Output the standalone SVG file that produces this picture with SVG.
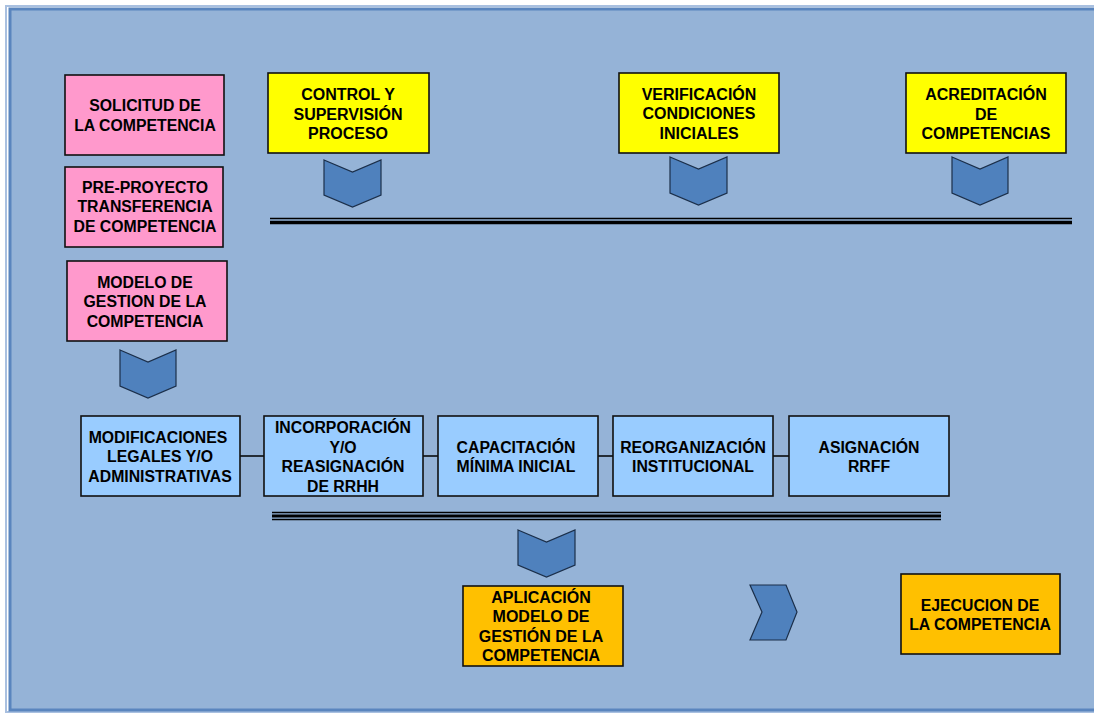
<svg xmlns="http://www.w3.org/2000/svg" width="1094" height="713" viewBox="0 0 1094 713">
<defs>
<style>
.bg{fill:#95B3D7;stroke:#5A85BE;stroke-width:3}
.box{stroke:#111;stroke-width:1.6}
.pink{fill:#FF99CC}
.yellow{fill:#FFFF00}
.blue{fill:#99CCFF}
.orange{fill:#FFC000}
.chev{fill:#4F81BD;stroke:#1B2F4A;stroke-width:1.2;stroke-linejoin:miter}
text{font-family:"Liberation Sans",Arial,sans-serif;font-weight:bold;fill:#000;text-anchor:middle}
.t{font-size:15.8px}
.n{font-size:16px}
.ln{stroke:#000}
</style>
</defs>
<rect x="0" y="0" width="1094" height="713" fill="#ffffff"/>
<rect x="6" y="6" width="1100" height="706" fill="none" stroke="#A9C0E0" stroke-width="2"/>
<rect class="bg" x="10" y="9" width="1096" height="701"/>

<g id="connectors">
  <line class="ln" x1="270" y1="218.5" x2="1072" y2="218.5" stroke-width="1.5"/>
  <line class="ln" x1="270" y1="222.5" x2="1072" y2="222.5" stroke-width="3.5"/>
  <line class="ln" x1="272" y1="512.5" x2="941" y2="512.5" stroke-width="1.5"/>
  <line class="ln" x1="272" y1="516" x2="941" y2="516" stroke-width="3"/>
  <line class="ln" x1="272" y1="519.5" x2="941" y2="519.5" stroke-width="1.5"/>
  <line class="ln" x1="240" y1="456" x2="264" y2="456" stroke-width="1.5"/>
  <line class="ln" x1="423" y1="456" x2="438" y2="456" stroke-width="1.5"/>
  <line class="ln" x1="598" y1="456" x2="613" y2="456" stroke-width="1.5"/>
  <line class="ln" x1="773" y1="456" x2="789" y2="456" stroke-width="1.5"/>
  <polygon class="chev" points="324,160 352.5,172 381,160 381,195 352.5,207 324,195"/>
  <polygon class="chev" points="670,157 698.5,169 727,157 727,193 698.5,205 670,193"/>
  <polygon class="chev" points="952,157 980,169 1008,157 1008,193 980,205 952,193"/>
  <polygon class="chev" points="120,350 148,362 176,350 176,386 148,398 120,386"/>
  <polygon class="chev" points="518,530 546.5,542 575,530 575,565 546.5,577 518,565"/>
  <polygon class="chev" points="750,585 786,585 797,612 786,640 750,640 762,612"/>
</g>

<g id="solicitud">
  <rect class="box pink" x="65" y="75" width="159" height="80"/>
  <text class="t" x="145" y="110.5">SOLICITUD  DE</text>
  <text class="t" x="145" y="130.5">LA COMPETENCIA</text>
</g>
<g id="preproyecto">
  <rect class="box pink" x="65" y="167" width="158" height="80"/>
  <text class="t" x="145" y="192.5">PRE-PROYECTO</text>
  <text class="t" x="145" y="212">TRANSFERENCIA</text>
  <text class="t" x="145" y="231.5">DE COMPETENCIA</text>
</g>
<g id="modelo">
  <rect class="box pink" x="67" y="261" width="160" height="80"/>
  <text class="t" x="145" y="287.5">MODELO DE</text>
  <text class="t" x="145" y="307">GESTION DE LA</text>
  <text class="t" x="145" y="326.5">COMPETENCIA</text>
</g>
<g id="control">
  <rect class="box yellow" x="268" y="73" width="161" height="80"/>
  <text class="n" x="348" y="100">CONTROL Y</text>
  <text class="n" x="348" y="119.5">SUPERVISIÓN</text>
  <text class="n" x="348" y="139">PROCESO</text>
</g>
<g id="verificacion">
  <rect class="box yellow" x="619" y="73" width="160" height="80"/>
  <text class="n" x="699" y="100">VERIFICACIÓN</text>
  <text class="n" x="699" y="119">CONDICIONES</text>
  <text class="n" x="699" y="139">INICIALES</text>
</g>
<g id="acreditacion">
  <rect class="box yellow" x="906" y="73" width="160" height="80"/>
  <text class="n" x="986" y="100">ACREDITACIÓN</text>
  <text class="n" x="986" y="119.5">DE</text>
  <text class="n" x="986" y="139">COMPETENCIAS</text>
</g>
<g id="modificaciones">
  <rect class="box blue" x="81" y="416" width="159" height="80"/>
  <text class="t" x="158" y="442.5">MODIFICACIONES</text>
  <text class="t" x="160" y="462">LEGALES Y/O</text>
  <text class="t" x="160" y="481.5">ADMINISTRATIVAS</text>
</g>
<g id="incorporacion">
  <rect class="box blue" x="264" y="416" width="159" height="80"/>
  <text class="t" x="343" y="432.5">INCORPORACIÓN</text>
  <text class="t" x="343" y="452.5">Y/O</text>
  <text class="t" x="343" y="472">REASIGNACIÓN</text>
  <text class="t" x="343" y="491.5">DE RRHH</text>
</g>
<g id="capacitacion">
  <rect class="box blue" x="438" y="416" width="160" height="80"/>
  <text class="t" x="516" y="452.5">CAPACITACIÓN</text>
  <text class="t" x="516" y="472">MÍNIMA  INICIAL</text>
</g>
<g id="reorganizacion">
  <rect class="box blue" x="613" y="416" width="160" height="80"/>
  <text class="t" x="693" y="452.5">REORGANIZACIÓN</text>
  <text class="t" x="693" y="472">INSTITUCIONAL</text>
</g>
<g id="asignacion">
  <rect class="box blue" x="789" y="416" width="160" height="80"/>
  <text class="t" x="869" y="452.5">ASIGNACIÓN</text>
  <text class="t" x="869" y="472">RRFF</text>
</g>
<g id="aplicacion">
  <rect class="box orange" x="463" y="586" width="160" height="80"/>
  <text class="n" x="541" y="602.5">APLICACIÓN</text>
  <text class="n" x="541" y="622">MODELO DE</text>
  <text class="n" x="541" y="641.5">GESTIÓN DE LA</text>
  <text class="n" x="541" y="661">COMPETENCIA</text>
</g>
<g id="ejecucion">
  <rect class="box orange" x="901" y="574" width="159" height="80"/>
  <text class="t" x="980" y="610.5">EJECUCION  DE</text>
  <text class="t" x="980" y="630">LA COMPETENCIA</text>
</g>
</svg>
